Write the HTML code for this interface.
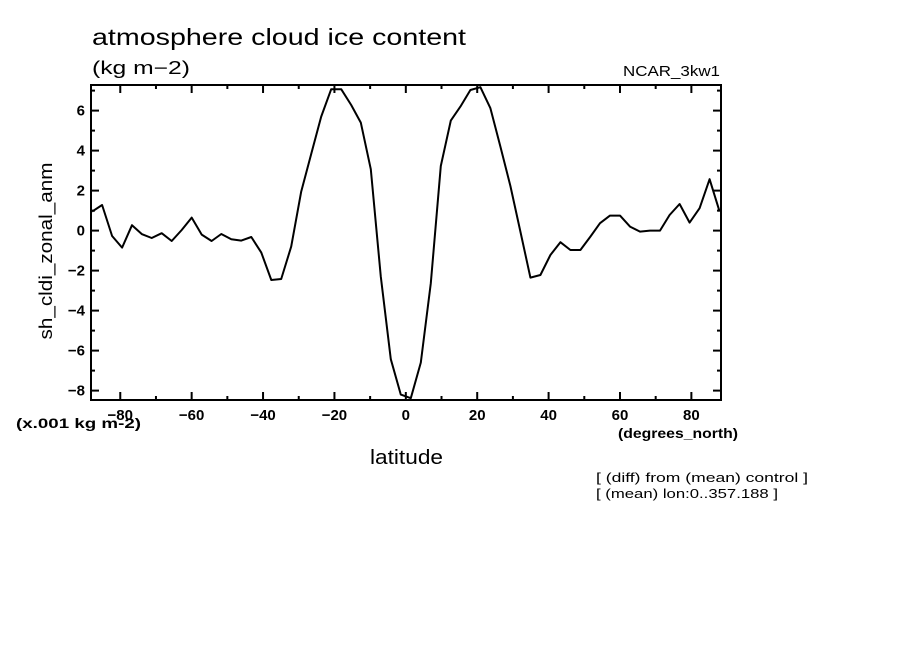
<!DOCTYPE html>
<html><head><meta charset="utf-8"><style>
html,body{margin:0;padding:0;background:#fff;width:904px;height:654px;overflow:hidden}
svg{display:block}
text{font-family:"Liberation Sans",sans-serif;fill:#000}
</style></head><body>
<svg id="chart" width="904" height="654" viewBox="0 0 904 654">
<text x="92" y="45" font-size="23" textLength="374" lengthAdjust="spacingAndGlyphs">atmosphere cloud ice content</text>
<text x="92" y="74" font-size="18" textLength="98" lengthAdjust="spacingAndGlyphs">(kg m−2)</text>
<text x="623" y="76" font-size="15" textLength="97" lengthAdjust="spacingAndGlyphs">NCAR_3kw1</text>
<text x="16" y="428" font-size="14" font-weight="bold" textLength="125" lengthAdjust="spacingAndGlyphs">(x.001 kg m-2)</text>
<text x="618" y="438" font-size="14" font-weight="bold" textLength="120" lengthAdjust="spacingAndGlyphs">(degrees_north)</text>
<text x="370" y="464" font-size="20" textLength="73" lengthAdjust="spacingAndGlyphs">latitude</text>
<text x="0" y="0" font-size="18" text-anchor="middle" textLength="177" lengthAdjust="spacingAndGlyphs" transform="translate(52,251) rotate(-90)">sh_cldi_zonal_anm</text>
<text x="596" y="482" font-size="13" textLength="212" lengthAdjust="spacingAndGlyphs">[ (diff) from (mean) control ]</text>
<text x="596" y="498" font-size="13" textLength="182" lengthAdjust="spacingAndGlyphs">[ (mean) lon:0..357.188 ]</text>
<g id="axes"></g>
<g id="series"></g>
</svg>
<script>
const lats = [-87.9,-85.1,-82.3,-79.5,-76.7,-73.9,-71.2,-68.4,-65.6,-62.8,-60.0,-57.2,-54.4,-51.7,-48.9,-46.1,-43.3,-40.5,-37.7,-34.9,-32.1,-29.3,-26.5,-23.7,-20.9,-18.1,-15.3,-12.6,-9.8,-7.0,-4.2,-1.4,
1.4,4.2,7.0,9.8,12.6,15.3,18.1,20.9,23.7,26.5,29.3,32.1,34.9,37.7,40.5,43.3,46.1,48.9,51.7,54.4,57.2,60.0,62.8,65.6,68.4,71.2,73.9,76.7,79.5,82.3,85.1,87.9];
const values = [0.95,1.28,-0.27,-0.85,0.27,-0.18,-0.37,-0.13,-0.52,0.03,0.65,-0.2,-0.52,-0.17,-0.43,-0.5,-0.32,-1.1,-2.47,-2.42,-0.8,1.95,3.83,5.7,7.07,7.07,6.28,5.4,3.07,-2.3,-6.43,-8.2,
-8.38,-6.6,-2.63,3.23,5.5,6.2,7.03,7.17,6.12,4.2,2.23,-0.05,-2.35,-2.22,-1.22,-0.58,-0.97,-0.97,-0.3,0.37,0.75,0.75,0.2,-0.05,0,0,0.78,1.33,0.4,1.12,2.57,0.95];
const xTicks = [-80,-60,-40,-20,0,20,40,60,80];
const yTicks = [-8,-6,-4,-2,0,2,4,6];

const L=91,R=721,T=85,B=400;
const xMin=-88.2,xMax=88.3,yMin=-8.47,yMax=7.28;
const sx=v=>L+(v-xMin)/(xMax-xMin)*(R-L);
const sy=v=>B-(v-yMin)/(yMax-yMin)*(B-T);
const NS="http://www.w3.org/2000/svg";
const axes=document.getElementById('axes');
function mk(tag,attrs,parent){const e=document.createElementNS(NS,tag);for(const k in attrs)e.setAttribute(k,attrs[k]);parent.appendChild(e);return e;}
const frame=mk('rect',{x:L,y:T,width:R-L,height:B-T,fill:'none',stroke:'#000','stroke-width':2},axes);


for(let v=-80;v<=80;v+=10){
  const x=sx(v),len=(v%20===0)?8:4;
  const t1=mk('line',{x1:x,y1:B,x2:x,y2:B-len,stroke:'#000','stroke-width':2},axes);
  
  
  const t2=mk('line',{x1:x,y1:T,x2:x,y2:T+len,stroke:'#000','stroke-width':2},axes);
  
  
}
for(let v=-8;v<=7;v+=1){
  const y=sy(v),len=(v%2===0)?8:4;
  const t1=mk('line',{x1:L,y1:y,x2:L+len,y2:y,stroke:'#000','stroke-width':2},axes);
  
  
  const t2=mk('line',{x1:R,y1:y,x2:R-len,y2:y,stroke:'#000','stroke-width':2},axes);
  
  
}
xTicks.forEach(v=>{
  const t=mk('text',{x:sx(v),y:B+20,'font-size':15,'font-weight':'bold','text-anchor':'middle'},axes);
  t.textContent=(v<0?'−':'')+Math.abs(v);
  
  
});
yTicks.forEach(v=>{
  const t=mk('text',{x:L-6,y:sy(v)+5,'font-size':15,'font-weight':'bold','text-anchor':'end'},axes);
  t.textContent=(v<0?'−':'')+Math.abs(v);
  
  
});
const pts=lats.map((la,i)=>{const x=Math.max(L,Math.min(R,sx(la)));return x.toFixed(1)+','+sy(values[i]).toFixed(1);}).join(' ');
const line=mk('polyline',{points:pts,fill:'none',stroke:'#000','stroke-width':2,'stroke-linejoin':'round'},document.getElementById('series'));


</script>
</body></html>
